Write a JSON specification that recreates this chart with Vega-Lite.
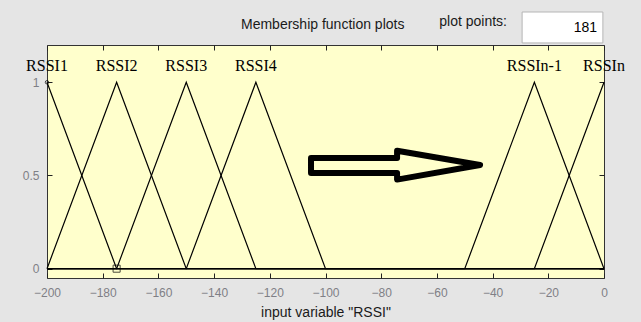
{
  "$schema": "https://vega.github.io/schema/vega-lite/v6.json",
  "width": 557,
  "height": 233,
  "autosize": {"type": "none"},
  "padding": {"left": 47, "top": 45, "right": 37, "bottom": 44},
  "background": "#e5e5e5",
  "config": {
    "view": {"fill": "#ffffcc", "stroke": "#333333", "strokeWidth": 1},
    "axis": {
      "domain": false,
      "grid": false,
      "labelFont": "Liberation Sans",
      "labelFontSize": 12,
      "labelColor": "#7f7f86",
      "labelFlush": false,
      "labelOverlap": false,
      "tickColor": "#222222",
      "tickWidth": 1,
      "tickSize": -5,
      "titleFont": "Liberation Sans",
      "titleFontSize": 14,
      "titleFontWeight": "normal",
      "titleColor": "#1a1a1a"
    }
  },
  "datasets": {
    "mfs": [
      {"mf": "RSSI1", "x": -200, "mu": 1},
      {"mf": "RSSI1", "x": -175, "mu": 0},
      {"mf": "RSSI1", "x": 0, "mu": 0},
      {"mf": "RSSI2", "x": -200, "mu": 0},
      {"mf": "RSSI2", "x": -175, "mu": 1},
      {"mf": "RSSI2", "x": -150, "mu": 0},
      {"mf": "RSSI2", "x": 0, "mu": 0},
      {"mf": "RSSI3", "x": -200, "mu": 0},
      {"mf": "RSSI3", "x": -175, "mu": 0},
      {"mf": "RSSI3", "x": -150, "mu": 1},
      {"mf": "RSSI3", "x": -125, "mu": 0},
      {"mf": "RSSI3", "x": 0, "mu": 0},
      {"mf": "RSSI4", "x": -200, "mu": 0},
      {"mf": "RSSI4", "x": -150, "mu": 0},
      {"mf": "RSSI4", "x": -125, "mu": 1},
      {"mf": "RSSI4", "x": -100, "mu": 0},
      {"mf": "RSSI4", "x": 0, "mu": 0},
      {"mf": "RSSIn-1", "x": -200, "mu": 0},
      {"mf": "RSSIn-1", "x": -50, "mu": 0},
      {"mf": "RSSIn-1", "x": -25, "mu": 1},
      {"mf": "RSSIn-1", "x": 0, "mu": 0},
      {"mf": "RSSIn", "x": -200, "mu": 0},
      {"mf": "RSSIn", "x": -25, "mu": 0},
      {"mf": "RSSIn", "x": 0, "mu": 1}
    ],
    "names": [
      {"mf": "RSSI1", "peak": -200},
      {"mf": "RSSI2", "peak": -175},
      {"mf": "RSSI3", "peak": -150},
      {"mf": "RSSI4", "peak": -125},
      {"mf": "RSSIn-1", "peak": -25},
      {"mf": "RSSIn", "peak": 0}
    ],
    "arrow": [
      {"i": 0, "x": -105.2, "y": 0.594},
      {"i": 1, "x": -74.3, "y": 0.594},
      {"i": 2, "x": -74.3, "y": 0.633},
      {"i": 3, "x": -44.5, "y": 0.556},
      {"i": 4, "x": -74.3, "y": 0.478},
      {"i": 5, "x": -74.3, "y": 0.513},
      {"i": 6, "x": -105.2, "y": 0.513},
      {"i": 7, "x": -105.2, "y": 0.594}
    ]
  },
  "resolve": {"axis": {"x": "independent", "y": "independent"}},
  "layer": [
    {
      "data": {"name": "mfs"},
      "mark": {"type": "line", "color": "#000000", "strokeWidth": 1.2},
      "encoding": {
        "x": {
          "field": "x",
          "type": "quantitative",
          "scale": {"domain": [-200, 0], "nice": false, "zero": false},
          "axis": {
            "orient": "bottom",
            "values": [-200, -180, -160, -140, -120, -100, -80, -60, -40, -20, 0],
            "labelPadding": 14,
            "title": "input variable \"RSSI\"",
            "titlePadding": 7
          }
        },
        "y": {
          "field": "mu",
          "type": "quantitative",
          "scale": {"domain": [-0.05, 1.2], "nice": false, "zero": false},
          "axis": {
            "orient": "left",
            "values": [0, 0.5, 1],
            "format": "~g",
            "labelPadding": 13,
            "title": null
          }
        },
        "detail": {"field": "mf"}
      }
    },
    {
      "data": {"values": [{"x": -200, "mu": 0}]},
      "mark": {"type": "point", "opacity": 0},
      "encoding": {
        "x": {
          "field": "x",
          "type": "quantitative",
          "axis": {
            "orient": "top",
            "values": [-200, -180, -160, -140, -120, -100, -80, -60, -40, -20, 0],
            "labels": false,
            "title": null
          }
        },
        "y": {
          "field": "mu",
          "type": "quantitative",
          "axis": {
            "orient": "right",
            "values": [0, 0.5, 1],
            "labels": false,
            "title": null
          }
        }
      }
    },
    {
      "data": {"name": "names"},
      "mark": {
        "type": "text",
        "font": "Liberation Serif",
        "fontSize": 16,
        "color": "#000000",
        "baseline": "middle",
        "align": "center"
      },
      "encoding": {
        "x": {"field": "peak", "type": "quantitative", "axis": null},
        "y": {"datum": 1.09, "axis": null},
        "text": {"field": "mf"}
      }
    },
    {
      "data": {"values": [{"x": -200, "mu": 1}]},
      "mark": {"type": "point", "shape": "circle", "size": 12, "filled": false, "color": "#000000", "strokeWidth": 1},
      "encoding": {
        "x": {"field": "x", "type": "quantitative", "axis": null},
        "y": {"field": "mu", "type": "quantitative", "axis": null}
      }
    },
    {
      "data": {"values": [{"x": -175, "mu": 0}]},
      "mark": {"type": "point", "shape": "square", "size": 50, "filled": false, "color": "#000000", "strokeWidth": 1},
      "encoding": {
        "x": {"field": "x", "type": "quantitative", "axis": null},
        "y": {"field": "mu", "type": "quantitative", "axis": null}
      }
    },
    {
      "data": {"name": "arrow"},
      "mark": {"type": "line", "color": "#000000", "strokeWidth": 6, "strokeJoin": "round", "strokeCap": "round"},
      "encoding": {
        "x": {"field": "x", "type": "quantitative", "axis": null},
        "y": {"field": "y", "type": "quantitative", "axis": null},
        "order": {"field": "i"}
      }
    },
    {
      "data": {"values": [{}]},
      "mark": {"type": "rect", "fill": "#ffffff", "stroke": "#b5b5b5", "strokeWidth": 1},
      "encoding": {
        "x": {"datum": -29.4, "axis": null},
        "x2": {"datum": -0.4},
        "y": {"datum": 1.377, "axis": null},
        "y2": {"datum": 1.211}
      }
    },
    {
      "data": {"values": [{"label": "Membership function plots"}]},
      "mark": {"type": "text", "font": "Liberation Sans", "fontSize": 14, "color": "#1a1a1a", "align": "center", "baseline": "middle"},
      "encoding": {
        "x": {"datum": -101, "axis": null},
        "y": {"datum": 1.307, "axis": null},
        "text": {"field": "label"}
      }
    },
    {
      "data": {"values": [{"label": "plot points:"}]},
      "mark": {"type": "text", "font": "Liberation Sans", "fontSize": 14, "color": "#1a1a1a", "align": "center", "baseline": "middle"},
      "encoding": {
        "x": {"datum": -47, "axis": null},
        "y": {"datum": 1.323, "axis": null},
        "text": {"field": "label"}
      }
    },
    {
      "data": {"values": [{"label": "181"}]},
      "mark": {"type": "text", "font": "Liberation Sans", "fontSize": 14, "color": "#000000", "align": "right", "baseline": "middle"},
      "encoding": {
        "x": {"datum": -2.5, "axis": null},
        "y": {"datum": 1.291, "axis": null},
        "text": {"field": "label"}
      }
    }
  ]
}
